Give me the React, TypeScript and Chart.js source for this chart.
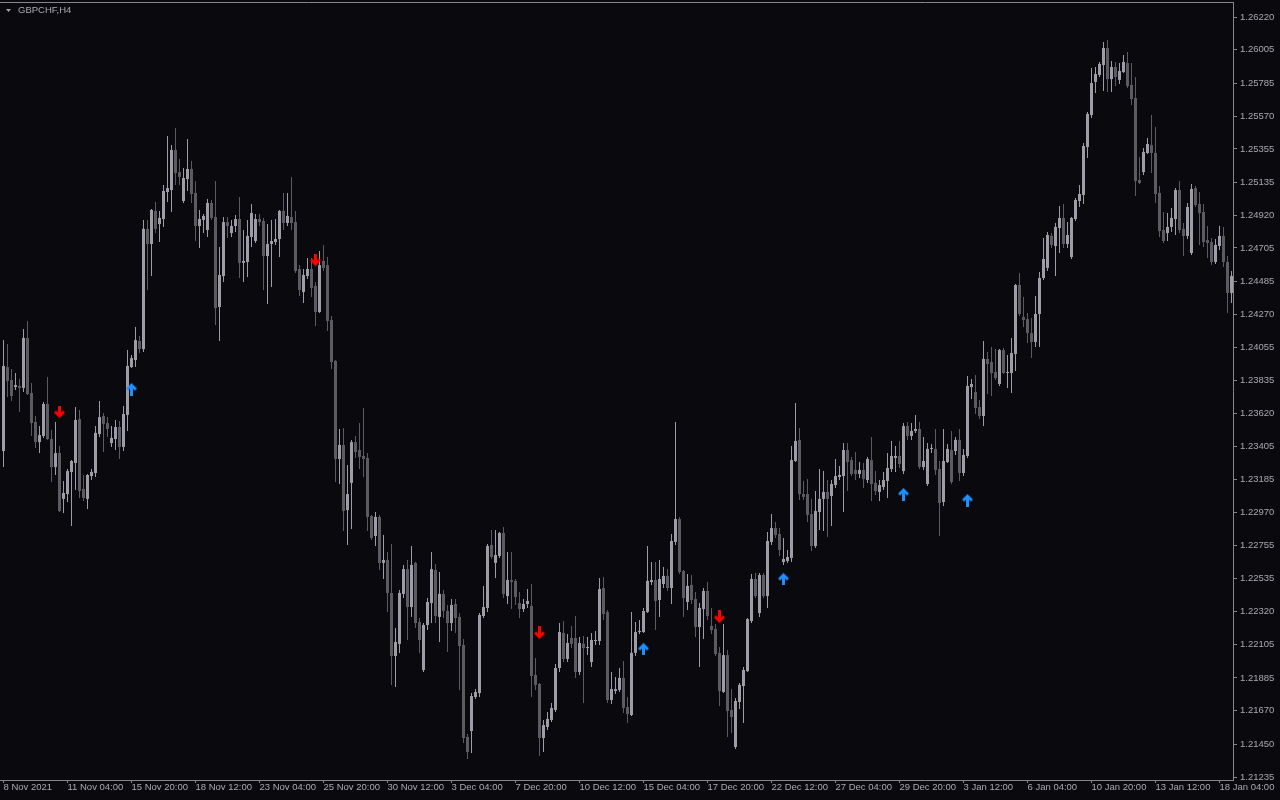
import { useEffect, useRef } from 'react';
import { Chart, registerables } from 'chart.js';

Chart.register(...registerables);

// ---- Data (GBPCHF H4 candles) ----
const opens = [
  1.23373, 1.23924, 1.23839, 1.23793, 1.23800, 1.23787, 1.24115, 1.23754, 1.23564, 1.23432,
  1.23472, 1.23682, 1.23452, 1.23268, 1.23360, 1.23059, 1.23091, 1.23236, 1.23295, 1.23583,
  1.23124, 1.23059, 1.23209, 1.23229, 1.23485, 1.23603, 1.23557, 1.23426, 1.23452, 1.23531,
  1.23400, 1.23610, 1.23924, 1.23970, 1.24095, 1.24042, 1.24830, 1.24731, 1.24948, 1.24862,
  1.24895, 1.25072, 1.25085, 1.25348, 1.25203, 1.25013, 1.25157, 1.25223, 1.25066, 1.24849,
  1.24889, 1.24823, 1.25000, 1.24908, 1.24318, 1.24521, 1.24875, 1.24803, 1.24849, 1.24895,
  1.24607, 1.24613, 1.24777, 1.24751, 1.24895, 1.24882, 1.24652, 1.24731, 1.24744, 1.24764,
  1.24948, 1.24869, 1.24908, 1.24875, 1.24567, 1.24416, 1.24521, 1.24567, 1.24456, 1.24285,
  1.24620, 1.24593, 1.24233, 1.23964, 1.23321, 1.23413, 1.22986, 1.23164, 1.23432, 1.23380,
  1.23341, 1.23328, 1.22947, 1.22816, 1.22941, 1.22639, 1.22659, 1.22442, 1.22029, 1.22108,
  1.22436, 1.22599, 1.22350, 1.22639, 1.22252, 1.21937, 1.22232, 1.22376, 1.22593, 1.22285,
  1.22436, 1.22324, 1.22245, 1.22370, 1.22285, 1.22101, 1.21498, 1.21537, 1.21760, 1.21786,
  1.22291, 1.22344, 1.22757, 1.22639, 1.22685, 1.22836, 1.22422, 1.22527, 1.22521, 1.22376,
  1.22337, 1.22370, 1.22357, 1.21904, 1.21845, 1.21491, 1.21563, 1.21609, 1.21675, 1.21950,
  1.22180, 1.22009, 1.22147, 1.22147, 1.21924, 1.22108, 1.22081, 1.21989, 1.22127, 1.22127,
  1.22475, 1.22317, 1.21740, 1.21799, 1.21806, 1.21885, 1.21694, 1.21642, 1.22049, 1.22186,
  1.22186, 1.22317, 1.22514, 1.22527, 1.22396, 1.22501, 1.22554, 1.22475, 1.22777, 1.22927,
  1.22586, 1.22383, 1.22495, 1.22403, 1.22219, 1.22337, 1.22455, 1.22226, 1.22206, 1.22049,
  1.21793, 1.22035, 1.21675, 1.21432, 1.21727, 1.21832, 1.21930, 1.22258, 1.22534, 1.22311,
  1.22560, 1.22422, 1.22777, 1.22868, 1.22829, 1.22645, 1.22652, 1.22672, 1.23308, 1.23446,
  1.23091, 1.23091, 1.22960, 1.22750, 1.22973, 1.23059, 1.23105, 1.23078, 1.23150, 1.23203,
  1.23209, 1.23380, 1.23314, 1.23249, 1.23223, 1.23249, 1.23183, 1.23314, 1.23164, 1.23105,
  1.23137, 1.23177, 1.23255, 1.23328, 1.23341, 1.23242, 1.23537, 1.23472, 1.23505, 1.23518,
  1.23268, 1.23157, 1.23387, 1.23387, 1.23255, 1.23039, 1.23301, 1.23380, 1.23373, 1.23446,
  1.23229, 1.23341, 1.23793, 1.23760, 1.23662, 1.23603, 1.23977, 1.23957, 1.23892, 1.23813,
  1.24036, 1.23885, 1.23885, 1.24010, 1.24462, 1.24252, 1.24239, 1.24147, 1.24088, 1.24272,
  1.24508, 1.24574, 1.24784, 1.24718, 1.24836, 1.24902, 1.24731, 1.24646, 1.24895, 1.25013,
  1.25053, 1.25367, 1.25577, 1.25794, 1.25840, 1.25905, 1.26017, 1.25813, 1.25892, 1.25807,
  1.25859, 1.25918, 1.25774, 1.25689, 1.25151, 1.25203, 1.25328, 1.25380, 1.25328, 1.25066,
  1.24823, 1.24803, 1.24843, 1.24895, 1.25085, 1.24830, 1.24784, 1.24672, 1.25098, 1.24994,
  1.24941, 1.24757, 1.24744, 1.24613, 1.24718, 1.24784, 1.24613, 1.24410,
];

const highs = [
  1.24101, 1.24075, 1.23911, 1.23885, 1.23846, 1.24174, 1.24226, 1.23819, 1.23603, 1.23537,
  1.23695, 1.23859, 1.23511, 1.23564, 1.23406, 1.23177, 1.23255, 1.23314, 1.23662, 1.23642,
  1.23216, 1.23223, 1.23255, 1.23537, 1.23701, 1.23623, 1.23596, 1.23537, 1.23577, 1.23570,
  1.23669, 1.24036, 1.24003, 1.24187, 1.24128, 1.24889, 1.24889, 1.24961, 1.25007, 1.24948,
  1.25118, 1.25440, 1.25380, 1.25492, 1.25289, 1.25230, 1.25420, 1.25276, 1.25144, 1.24954,
  1.24928, 1.25026, 1.25020, 1.25144, 1.24711, 1.24908, 1.24908, 1.24889, 1.24921, 1.25039,
  1.24823, 1.24889, 1.24994, 1.24928, 1.24928, 1.24902, 1.24862, 1.24889, 1.24895, 1.24954,
  1.25066, 1.25066, 1.25171, 1.24948, 1.24593, 1.24567, 1.24639, 1.24639, 1.24482, 1.24685,
  1.24725, 1.24646, 1.24259, 1.23970, 1.23518, 1.23524, 1.23282, 1.23446, 1.23472, 1.23557,
  1.23655, 1.23360, 1.22954, 1.22973, 1.22954, 1.22822, 1.22711, 1.22763, 1.22212, 1.22462,
  1.22626, 1.22659, 1.22750, 1.22645, 1.22278, 1.22245, 1.22409, 1.22711, 1.22632, 1.22580,
  1.22462, 1.22363, 1.22403, 1.22403, 1.22311, 1.22140, 1.21517, 1.21786, 1.21812, 1.22311,
  1.22488, 1.22763, 1.22855, 1.22855, 1.22842, 1.22875, 1.22711, 1.22711, 1.22534, 1.22449,
  1.22403, 1.22468, 1.22501, 1.22016, 1.21852, 1.21609, 1.21662, 1.21721, 1.21976, 1.22245,
  1.22258, 1.22173, 1.22226, 1.22291, 1.22153, 1.22160, 1.22153, 1.22180, 1.22193, 1.22540,
  1.22547, 1.22331, 1.21924, 1.21891, 1.21950, 1.21996, 1.21760, 1.22317, 1.22252, 1.22265,
  1.22344, 1.22750, 1.22645, 1.22645, 1.22659, 1.22613, 1.22599, 1.22829, 1.23564, 1.22941,
  1.22593, 1.22567, 1.22560, 1.22449, 1.22376, 1.22475, 1.22514, 1.22344, 1.22239, 1.22088,
  1.22239, 1.22068, 1.21812, 1.21753, 1.21852, 1.21957, 1.22278, 1.22567, 1.22573, 1.22573,
  1.22573, 1.22842, 1.22960, 1.22908, 1.22868, 1.22803, 1.22724, 1.23406, 1.23688, 1.23524,
  1.23177, 1.23190, 1.23059, 1.23111, 1.23255, 1.23242, 1.23183, 1.23183, 1.23321, 1.23275,
  1.23426, 1.23426, 1.23334, 1.23367, 1.23301, 1.23295, 1.23334, 1.23465, 1.23242, 1.23183,
  1.23236, 1.23360, 1.23439, 1.23406, 1.23439, 1.23557, 1.23564, 1.23557, 1.23610, 1.23564,
  1.23465, 1.23426, 1.23419, 1.23518, 1.23308, 1.23518, 1.23419, 1.23505, 1.23465, 1.23518,
  1.23387, 1.23865, 1.23846, 1.23872, 1.23708, 1.24095, 1.24023, 1.24056, 1.24042, 1.24042,
  1.24049, 1.24003, 1.24115, 1.24469, 1.24541, 1.24384, 1.24279, 1.24246, 1.24390, 1.24548,
  1.24771, 1.24810, 1.24803, 1.24869, 1.24981, 1.24994, 1.24875, 1.24908, 1.25033, 1.25118,
  1.25394, 1.25597, 1.25886, 1.25892, 1.25925, 1.26056, 1.26069, 1.25931, 1.25925, 1.25918,
  1.25971, 1.25990, 1.25918, 1.25827, 1.25302, 1.25361, 1.25426, 1.25577, 1.25499, 1.25112,
  1.24941, 1.24934, 1.24967, 1.25098, 1.25144, 1.24869, 1.25000, 1.25125, 1.25112, 1.25072,
  1.24994, 1.24849, 1.24771, 1.24764, 1.24849, 1.24843, 1.24652, 1.24554,
];

const lows = [
  1.23268, 1.23728, 1.23701, 1.23774, 1.23629, 1.23760, 1.23741, 1.23472, 1.23393, 1.23360,
  1.23459, 1.23446, 1.23170, 1.23216, 1.22973, 1.22967, 1.23039, 1.22882, 1.23118, 1.23065,
  1.23045, 1.22993, 1.23183, 1.23203, 1.23465, 1.23367, 1.23465, 1.23400, 1.23380, 1.23321,
  1.23373, 1.23505, 1.23918, 1.23924, 1.24016, 1.24023, 1.24429, 1.24521, 1.24803, 1.24744,
  1.24843, 1.25007, 1.24941, 1.25118, 1.25118, 1.25000, 1.25079, 1.25000, 1.24751, 1.24705,
  1.24803, 1.24777, 1.24889, 1.24200, 1.24095, 1.24482, 1.24771, 1.24777, 1.24810, 1.24508,
  1.24482, 1.24515, 1.24711, 1.24738, 1.24849, 1.24429, 1.24338, 1.24449, 1.24725, 1.24646,
  1.24823, 1.24849, 1.24823, 1.24541, 1.24390, 1.24344, 1.24502, 1.24384, 1.24193, 1.24279,
  1.24554, 1.24161, 1.23911, 1.23170, 1.23157, 1.22849, 1.22757, 1.22862, 1.23328, 1.23255,
  1.23203, 1.22849, 1.22790, 1.22750, 1.22593, 1.22534, 1.22317, 1.21839, 1.21826, 1.22049,
  1.22409, 1.22134, 1.22285, 1.22212, 1.22049, 1.21924, 1.22199, 1.22245, 1.22245, 1.22121,
  1.22278, 1.22055, 1.22193, 1.22180, 1.21806, 1.21458, 1.21353, 1.21393, 1.21747, 1.21760,
  1.22278, 1.22317, 1.22665, 1.22540, 1.22672, 1.22409, 1.22370, 1.22337, 1.22363, 1.22278,
  1.22317, 1.22344, 1.21760, 1.21806, 1.21373, 1.21399, 1.21543, 1.21596, 1.21662, 1.21924,
  1.21989, 1.21989, 1.22081, 1.21885, 1.21904, 1.21721, 1.22035, 1.21957, 1.22101, 1.22101,
  1.22265, 1.21721, 1.21714, 1.21780, 1.21793, 1.21655, 1.21589, 1.21635, 1.22029, 1.22173,
  1.22180, 1.22311, 1.22495, 1.22199, 1.22285, 1.22475, 1.22455, 1.22370, 1.22757, 1.22567,
  1.22285, 1.22331, 1.22370, 1.22153, 1.21957, 1.22140, 1.22265, 1.22173, 1.22029, 1.21701,
  1.21786, 1.21498, 1.21524, 1.21419, 1.21681, 1.21589, 1.21924, 1.22245, 1.22409, 1.22285,
  1.22409, 1.22344, 1.22757, 1.22803, 1.22685, 1.22626, 1.22639, 1.22645, 1.23301, 1.23052,
  1.23052, 1.22908, 1.22717, 1.22737, 1.22855, 1.22849, 1.22809, 1.22882, 1.23131, 1.23183,
  1.22973, 1.23111, 1.23209, 1.23183, 1.23196, 1.23131, 1.23164, 1.23045, 1.23085, 1.23045,
  1.23118, 1.23065, 1.23236, 1.23236, 1.23262, 1.23223, 1.23446, 1.23446, 1.23492, 1.23255,
  1.23249, 1.23144, 1.23360, 1.23216, 1.22816, 1.23013, 1.23295, 1.23157, 1.23347, 1.23177,
  1.23209, 1.23328, 1.23715, 1.23616, 1.23583, 1.23537, 1.23747, 1.23734, 1.23839, 1.23800,
  1.23878, 1.23787, 1.23754, 1.23898, 1.24259, 1.24187, 1.24082, 1.23983, 1.24056, 1.24056,
  1.24495, 1.24554, 1.24705, 1.24521, 1.24672, 1.24705, 1.24705, 1.24633, 1.24882, 1.24974,
  1.24994, 1.25295, 1.25558, 1.25722, 1.25827, 1.25735, 1.25728, 1.25728, 1.25767, 1.25781,
  1.25853, 1.25754, 1.25643, 1.25046, 1.25125, 1.25184, 1.25321, 1.25197, 1.25000, 1.24777,
  1.24738, 1.24751, 1.24810, 1.24790, 1.24803, 1.24652, 1.24764, 1.24659, 1.24974, 1.24725,
  1.24711, 1.24639, 1.24593, 1.24600, 1.24692, 1.24580, 1.24279, 1.24344,
];

const closes = [
  1.23931, 1.23833, 1.23734, 1.23806, 1.23787, 1.24115, 1.23747, 1.23557, 1.23432, 1.23478,
  1.23682, 1.23452, 1.23268, 1.23360, 1.22980, 1.23098, 1.23242, 1.23308, 1.23577, 1.23111,
  1.23065, 1.23216, 1.23236, 1.23492, 1.23596, 1.23551, 1.23518, 1.23459, 1.23531, 1.23400,
  1.23616, 1.23931, 1.23983, 1.24101, 1.24042, 1.24830, 1.24731, 1.24954, 1.24830, 1.24902,
  1.25079, 1.25098, 1.25348, 1.25197, 1.25171, 1.25164, 1.25223, 1.25059, 1.24849, 1.24895,
  1.24915, 1.25000, 1.24902, 1.24311, 1.24528, 1.24875, 1.24849, 1.24849, 1.24895, 1.24607,
  1.24620, 1.24784, 1.24934, 1.24895, 1.24875, 1.24652, 1.24731, 1.24751, 1.24764, 1.24948,
  1.24869, 1.24915, 1.24869, 1.24554, 1.24429, 1.24528, 1.24567, 1.24443, 1.24285, 1.24593,
  1.24574, 1.24226, 1.23957, 1.23321, 1.23413, 1.22980, 1.23091, 1.23432, 1.23367, 1.23334,
  1.23321, 1.22941, 1.22803, 1.22941, 1.22639, 1.22659, 1.22442, 1.22029, 1.22121, 1.22442,
  1.22599, 1.22350, 1.22626, 1.22245, 1.22134, 1.22232, 1.22383, 1.22599, 1.22291, 1.22436,
  1.22324, 1.22245, 1.22363, 1.22278, 1.22094, 1.21491, 1.21399, 1.21766, 1.21793, 1.22298,
  1.22350, 1.22750, 1.22678, 1.22691, 1.22836, 1.22436, 1.22527, 1.22514, 1.22416, 1.22337,
  1.22370, 1.22390, 1.21898, 1.21839, 1.21491, 1.21576, 1.21616, 1.21688, 1.21950, 1.22186,
  1.22009, 1.22114, 1.22108, 1.21924, 1.22114, 1.22081, 1.22088, 1.22134, 1.22134, 1.22468,
  1.22304, 1.21740, 1.21812, 1.21812, 1.21885, 1.21688, 1.21648, 1.22049, 1.22186, 1.22193,
  1.22324, 1.22521, 1.22527, 1.22390, 1.22534, 1.22554, 1.22475, 1.22783, 1.22927, 1.22580,
  1.22409, 1.22488, 1.22396, 1.22219, 1.22344, 1.22455, 1.22291, 1.22199, 1.22042, 1.21799,
  1.22035, 1.21668, 1.21629, 1.21734, 1.21839, 1.21937, 1.22271, 1.22534, 1.22422, 1.22560,
  1.22422, 1.22783, 1.22868, 1.22822, 1.22724, 1.22665, 1.22678, 1.23314, 1.23439, 1.23091,
  1.23072, 1.22954, 1.22750, 1.22980, 1.23059, 1.23105, 1.23059, 1.23157, 1.23209, 1.23216,
  1.23380, 1.23301, 1.23223, 1.23223, 1.23249, 1.23190, 1.23321, 1.23157, 1.23111, 1.23150,
  1.23183, 1.23262, 1.23341, 1.23341, 1.23288, 1.23537, 1.23472, 1.23505, 1.23518, 1.23268,
  1.23308, 1.23387, 1.23393, 1.23249, 1.23032, 1.23308, 1.23387, 1.23170, 1.23446, 1.23229,
  1.23347, 1.23800, 1.23813, 1.23655, 1.23603, 1.23977, 1.23944, 1.23885, 1.23852, 1.24036,
  1.23885, 1.23892, 1.24016, 1.24462, 1.24272, 1.24233, 1.24147, 1.24088, 1.24272, 1.24508,
  1.24633, 1.24790, 1.24725, 1.24843, 1.24902, 1.24731, 1.24790, 1.24902, 1.25020, 1.25059,
  1.25374, 1.25584, 1.25787, 1.25846, 1.25912, 1.26017, 1.25813, 1.25892, 1.25827, 1.25866,
  1.25925, 1.25767, 1.25682, 1.25144, 1.25131, 1.25335, 1.25387, 1.25328, 1.25059, 1.24816,
  1.24751, 1.24843, 1.24902, 1.25085, 1.24823, 1.24784, 1.24974, 1.25092, 1.24987, 1.24934,
  1.24744, 1.24738, 1.24613, 1.24725, 1.24784, 1.24613, 1.24410, 1.24521,
];

// Signal arrows (bar index, price)
const downArrowIdx = [14, 78, 134, 179];
const downArrowPrice = [1.23629, 1.24626, 1.22180, 1.22285];
const upArrowIdx = [32, 160, 195, 225, 241];
const upArrowPrice = [1.23780, 1.22075, 1.22534, 1.23091, 1.23052];

// Axis ticks
const xTickIdx = [0, 16, 32, 48, 64, 80, 96, 112, 128, 144, 160, 176, 192, 208, 224, 240, 256, 272, 288, 304];
const xTickLabels = [
  '8 Nov 2021', '11 Nov 04:00', '15 Nov 20:00', '18 Nov 12:00', '23 Nov 04:00',
  '25 Nov 20:00', '30 Nov 12:00', '3 Dec 04:00', '7 Dec 20:00', '10 Dec 12:00',
  '15 Dec 04:00', '17 Dec 20:00', '22 Dec 12:00', '27 Dec 04:00', '29 Dec 20:00',
  '3 Jan 12:00', '6 Jan 04:00', '10 Jan 20:00', '13 Jan 12:00', '18 Jan 04:00',
];
const yTicks = [
  1.26220, 1.26005, 1.25785, 1.25570, 1.25355, 1.25135, 1.24920, 1.24705,
  1.24485, 1.24270, 1.24055, 1.23835, 1.23620, 1.23405, 1.23185, 1.22970,
  1.22755, 1.22535, 1.22320, 1.22105, 1.21885, 1.21670, 1.21450, 1.21235,
];
const symbolLabel = 'GBPCHF,H4';

// ---- Styles ----
const BG = '#0a0a0e';
const BULL = '#9d9da8';
const BEAR = '#5b5b61';
const AXIS = '#86868d';
const TEXT = '#a8a8b0';
const FONT = "'Liberation Sans', Arial, sans-serif";

function makeArrow(color: string, up: boolean): HTMLCanvasElement {
  const c = document.createElement('canvas');
  c.width = 11;
  c.height = 13;
  const g = c.getContext('2d')!;
  g.strokeStyle = color;
  g.lineWidth = 3;
  g.lineCap = 'butt';
  g.lineJoin = 'miter';
  if (up) {
    g.beginPath(); g.moveTo(5.5, 2.5); g.lineTo(5.5, 13); g.stroke();
    g.beginPath(); g.moveTo(1, 7); g.lineTo(5.5, 2.5); g.lineTo(10, 7); g.stroke();
  } else {
    g.beginPath(); g.moveTo(5.5, 0); g.lineTo(5.5, 10.5); g.stroke();
    g.beginPath(); g.moveTo(1, 6); g.lineTo(5.5, 10.5); g.lineTo(10, 6); g.stroke();
  }
  return c;
}

const framePlugin = {
  id: 'mtFrame',
  afterDraw(chart: any) {
    const { ctx, chartArea } = chart;
    ctx.save();
    ctx.strokeStyle = AXIS;
    ctx.lineWidth = 1;
    ctx.beginPath();
    ctx.moveTo(0, chartArea.top + 0.5);
    ctx.lineTo(chartArea.right + 1, chartArea.top + 0.5);
    ctx.stroke();
    // symbol caption
    ctx.fillStyle = TEXT;
    ctx.beginPath();
    ctx.moveTo(6, 9);
    ctx.lineTo(11, 9);
    ctx.lineTo(8.5, 12);
    ctx.closePath();
    ctx.fill();
    ctx.font = `9.5px ${FONT}`;
    ctx.textBaseline = 'middle';
    ctx.textAlign = 'left';
    ctx.fillText(symbolLabel, 18, 10.5);
    ctx.restore();
  },
};

export default function App() {
  const ref = useRef<HTMLCanvasElement | null>(null);

  useEffect(() => {
    document.body.style.margin = '0';
    document.body.style.background = BG;
    const canvas = ref.current!;
    const colors = closes.map((c, i) => (c >= opens[i] ? BULL : BEAR));
    const bodies = opens.map((o, i) => ({ x: i, y: [o, closes[i]] }));
    const wicks = lows.map((l, i) => ({ x: i, y: [l, highs[i]] }));
    const downImg = makeArrow('#ff0000', false);
    const upImg = makeArrow('#1e90ff', true);

    const chart = new Chart(canvas, {
      type: 'bar',
      data: {
        datasets: [
          {
            type: 'line',
            label: 'sell',
            data: downArrowIdx.map((k, i) => ({ x: k, y: downArrowPrice[i] })),
            showLine: false,
            pointStyle: downImg,
            pointRadius: 1,
            pointBorderWidth: 0,
            clip: false,
            order: 0,
          } as any,
          {
            type: 'line',
            label: 'buy',
            data: upArrowIdx.map((k, i) => ({ x: k, y: upArrowPrice[i] })),
            showLine: false,
            pointStyle: upImg,
            pointRadius: 1,
            pointBorderWidth: 0,
            clip: false,
            order: 0,
          } as any,
          {
            label: 'body',
            data: bodies as any,
            backgroundColor: colors,
            barThickness: 3,
            grouped: false,
            minBarLength: 1,
            inflateAmount: 0,
            borderWidth: 0,
            order: 1,
          } as any,
          {
            label: 'wick',
            data: wicks as any,
            backgroundColor: colors,
            barThickness: 1,
            grouped: false,
            inflateAmount: 0,
            borderWidth: 0,
            order: 2,
          } as any,
        ],
      },
      options: {
        responsive: false,
        animation: false,
        events: [],
        layout: { autoPadding: false, padding: { top: 2, left: 0, right: 0, bottom: 0 } },
        plugins: {
          legend: { display: false },
          tooltip: { enabled: false },
        },
        scales: {
          x: {
            type: 'linear',
            position: 'bottom',
            min: -0.875,
            max: 307.375,
            offset: false,
            bounds: 'data',
            grid: {
              display: true,
              drawOnChartArea: false,
              drawTicks: true,
              tickLength: 3,
              color: AXIS,
              offset: false,
            },
            border: { display: true, color: AXIS, width: 1 },
            ticks: {
              autoSkip: false,
              maxRotation: 0,
              minRotation: 0,
              align: 'start',
              padding: -1,
              color: TEXT,
              font: { family: FONT, size: 9.5 },
              callback: (_v: any, i: number) => xTickLabels[i] ?? '',
            },
            afterBuildTicks: (s: any) => {
              s.ticks = xTickIdx.map((v) => ({ value: v }));
            },
            afterFit: (s: any) => {
              s.height = 20;
              s.paddingLeft = 0;
              s.paddingRight = 0;
            },
          } as any,
          y: {
            type: 'linear',
            position: 'right',
            min: 1.212155,
            max: 1.263184,
            bounds: 'data',
            beginAtZero: false,
            grid: {
              display: true,
              drawOnChartArea: false,
              drawTicks: true,
              tickLength: 4,
              color: AXIS,
            },
            border: { display: true, color: AXIS, width: 1 },
            ticks: {
              autoSkip: false,
              padding: 3,
              color: TEXT,
              font: { family: FONT, size: 9.5 },
              callback: (v: any) => Number(v).toFixed(5),
            },
            afterBuildTicks: (s: any) => {
              s.ticks = yTicks.map((v) => ({ value: v }));
            },
            afterFit: (s: any) => {
              s.width = 47;
              s.paddingTop = 0;
              s.paddingBottom = 0;
            },
          } as any,
        },
      } as any,
      plugins: [framePlugin],
    });

    return () => chart.destroy();
  }, []);

  return (
    <div style={{ width: 1280, height: 800, background: BG, position: 'relative' }}>
      <canvas ref={ref} width={1280} height={800} style={{ display: 'block' }} />
    </div>
  );
}
